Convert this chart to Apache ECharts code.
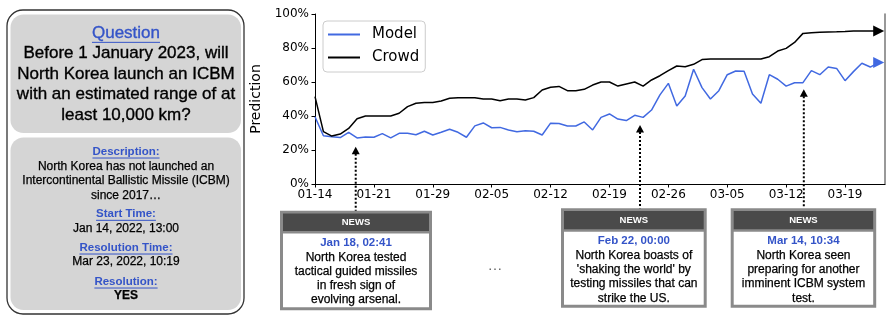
<!DOCTYPE html>
<html>
<head>
<meta charset="utf-8">
<script src="https://cdn.jsdelivr.net/npm/echarts@6/dist/echarts.min.js"></script>
<style>html,body{margin:0;padding:0;background:#fff;}#c{width:891px;height:323px;}</style>
</head>
<body>
<div id="c"></div>
<script>
// ---- data ----
const xTickLabels = ['01-14','01-21','01-29','02-05','02-12','02-19','02-26','03-05','03-12','03-19'];
const modelValues = [39.6,28.4,27.8,27.3,30.4,27.1,27.6,27.5,29.6,27.1,29.8,29.8,29.0,31.0,28.8,30.4,32.2,30.4,27.5,34.2,
  35.9,33.1,33.3,31.8,30.8,31.3,31.0,28.8,35.8,35.6,34.1,34.1,36.5,31.8,39.2,41.2,38.2,37.3,40.4,39.2,
  43.5,52.4,59.2,45.9,51.8,67.5,56.7,50.0,54.9,64.3,66.5,66.3,52.9,47.5,64.3,61.6,57.6,59.6,59.6,66.7,
  64.3,68.8,68.0,60.8,66.1,71.0,68.8,71.4];
const crowdValues = [51.4,30.8,28.2,29.4,32.7,38.4,40,40,40,40,41.6,45.5,47.5,48,48,48.8,50.4,50.8,50.8,50.8,
  50,50,49,50,50,49.4,50.8,55.3,56.9,57.4,54.9,54.9,55.7,58.2,60,60,57.6,58.8,60,57.6,
  61.2,63.7,66.7,69.4,69,70.4,73.2,73.5,73.5,73.5,73.5,73.5,73.5,73.5,74.9,78.2,79.8,83.3,88.6,89,
  89.2,89.4,89.5,89.7,90,90,90,90];
const seriesNames = ['Model','Crowd'];
const yTicks = [0,20,40,60,80,100];

const questionTitle = 'Question';
const questionLines = ['Before 1 January 2023, will','North Korea launch an ICBM','with an estimated range of at','least 10,000 km?'];
const infoLabels = ['Description:','Start Time:','Resolution Time:','Resolution:'];
const infoValues = [['North Korea has not launched an','Intercontinental Ballistic Missile (ICBM)','since 2017…'],
  ['Jan 14, 2022, 13:00'],['Mar 23, 2022, 10:19'],['YES']];

const newsHeader = 'NEWS';
const newsDates = ['Jan 18, 02:41','Feb 22, 00:00','Mar 14, 10:34'];
const newsTexts = [['North Korea tested','tactical guided missiles','in fresh sign of','evolving arsenal.'],
  ['North Korea boasts of',"'shaking the world' by",'testing missiles that can','strike the US.'],
  ['North Korea seen','preparing for another','imminent ICBM system','test.']];
const newsAt = [4.84, 38.63, 58.1];      // x index where each news arrow points
const newsArrowTip = [21.9, 34.7, 55.7];  // % level of the arrow tip

// ---- chart ----
const chart = echarts.init(document.getElementById('c'), null, {renderer:'canvas'});
const lastIdx = modelValues.length - 1;
const CH = '"DejaVu Sans", sans-serif';
const SANS = '"Liberation Sans", Arial, sans-serif';
const BLUE = '#4169e1';

chart.setOption({
  animation: false,
  textStyle: {fontFamily: CH},
  grid: {left: 315, right: 6, top: 14, bottom: 139, containLabel: false},
  legend: {
    orient: 'vertical', left: 323, top: 21,
    padding: [5, 6, 6, 5], itemGap: 6,
    backgroundColor: '#fff', borderColor: '#cccccc', borderWidth: 1, borderRadius: 4,
    itemWidth: 32, itemHeight: 2,
    textStyle: {fontSize: 15, color: '#000', fontFamily: CH, padding: [0,0,0,7], lineHeight: 17},
    data: seriesNames.map(n => ({name: n, icon: 'rect'}))
  },
  xAxis: {
    type: 'value', min: 0, max: 67.75, interval: 7,
    axisLine: {show: true, lineStyle: {color: '#000', width: 1}},
    axisTick: {show: true, length: 3.5, lineStyle: {color: '#000'}},
    axisLabel: {
      fontSize: 12, color: '#000', margin: 5, showMaxLabel: false,
      formatter: v => (v % 7 === 0 && v / 7 < xTickLabels.length) ? xTickLabels[v / 7] : ''
    },
    splitLine: {show: false}
  },
  yAxis: [{
    type: 'value', min: 0, max: 100, interval: 20,
    name: 'Prediction', nameLocation: 'middle', nameGap: 40,
    nameTextStyle: {fontSize: 14, color: '#000', fontFamily: CH},
    axisLine: {show: true, lineStyle: {color: '#000', width: 1}},
    axisTick: {show: true, length: 3.5, lineStyle: {color: '#000'}},
    axisLabel: {fontSize: 12, color: '#000', margin: 6, formatter: '{value}%'},
    splitLine: {show: false}
  }, {
    type: 'value', min: 0, max: 100, position: 'right',
    axisLine: {show: true, lineStyle: {color: '#777', width: 1.5}},
    axisTick: {show: false}, axisLabel: {show: false}, splitLine: {show: false}
  }],
  series: [
    {
      name: seriesNames[0], type: 'line', symbol: 'none', color: BLUE,
      lineStyle: {width: 1.5, color: BLUE},
      data: modelValues.map((v, i) => [i, v]),
      markPoint: {symbol: 'triangle', symbolSize: [11, 11], symbolRotate: -90, silent: true,
        itemStyle: {color: BLUE}, label: {show: false},
        data: [{coord: [lastIdx, modelValues[lastIdx]]}]}
    },
    {
      name: seriesNames[1], type: 'line', symbol: 'none', color: '#000',
      lineStyle: {width: 1.5, color: '#000'},
      data: crowdValues.map((v, i) => [i, v]),
      markPoint: {symbol: 'triangle', symbolSize: [11, 11], symbolRotate: -90, silent: true,
        itemStyle: {color: '#000'}, label: {show: false},
        data: [{coord: [lastIdx, crowdValues[lastIdx]]}]}
    }
  ]
});

// ---- decorations ----
const mctx = document.createElement('canvas').getContext('2d');
function textW(t, font) { mctx.font = font; return mctx.measureText(t).width; }
function txt(t, x, y, font, fill, extra) {
  return Object.assign({type: 'text', silent: true, style: Object.assign({text: t, x: x, y: y, font: font, fill: fill, align: 'center', verticalAlign: 'middle'}, extra || {})});
}
function underline(t, x, y, font, size, color) {
  const w = textW(t, font);
  return {type: 'line', silent: true, shape: {x1: x - w / 2, y1: y + size * 0.55, x2: x + w / 2, y2: y + size * 0.55}, style: {stroke: color, lineWidth: 1}};
}
const G = [];
const LBLUE = '#3454c8';
// Left panel
G.push({type: 'rect', silent: true, shape: {x: 7, y: 10, width: 237, height: 304, r: 16}, style: {fill: '#fff', stroke: '#333', lineWidth: 1.3}});
G.push({type: 'rect', silent: true, shape: {x: 10.5, y: 14.5, width: 230.5, height: 118.5, r: 13}, style: {fill: '#d5d5d5'}});
G.push({type: 'rect', silent: true, shape: {x: 10.5, y: 137.5, width: 230.5, height: 172.5, r: 13}, style: {fill: '#d5d5d5'}});
const cx = 126;
const fQ = '17px ' + SANS;
G.push(txt(questionTitle, cx, 33, fQ, LBLUE, {stroke: LBLUE, lineWidth: 0.35}));
G.push(underline(questionTitle, cx, 33, fQ, 17, LBLUE));
const qY = [53.5, 74, 94.5, 115];
questionLines.forEach((l, i) => G.push(txt(l, cx, qY[i], fQ, '#000', {stroke: '#000', lineWidth: 0.35})));
const fL = 'bold 11.5px ' + SANS, fB = '12px ' + SANS;
const labY = [151.7, 214, 247.7, 281.7];
const valY = [[166.7, 181, 195.2], [228.3], [261.7], [295.7]];
infoLabels.forEach((l, i) => {
  G.push(txt(l, cx, labY[i], fL, LBLUE));
  G.push(underline(l, cx, labY[i], fL, 11.5, LBLUE));
  infoValues[i].forEach((v, j) => G.push(txt(v, cx, valY[i][j], i === 3 ? 'bold 12px ' + SANS : fB, '#000', {stroke: '#000', lineWidth: 0.25})));
});

// News boxes
const boxes = [
  {x: 280, y: 210.7, w: 152, h: 99.5, hb: 231},
  {x: 561, y: 208.3, w: 145.7, h: 99.4, hb: 229.3},
  {x: 730.7, y: 208.3, w: 145.5, h: 99.4, hb: 229.3}
];
boxes.forEach((b, k) => {
  const mx = b.x + b.w / 2;
  G.push({type: 'rect', silent: true, shape: {x: b.x, y: b.y, width: b.w, height: b.h}, style: {fill: '#8a8a8a'}});
  G.push({type: 'rect', silent: true, shape: {x: b.x + 3, y: b.y + 2.7, width: b.w - 6, height: b.hb - b.y - 2.7}, style: {fill: '#4a4a4a'}});
  G.push({type: 'rect', silent: true, shape: {x: b.x + 3, y: b.hb + 2.5, width: b.w - 6, height: b.y + b.h - 3 - b.hb - 2.5}, style: {fill: '#fff'}});
  G.push(txt(newsHeader, mx, (b.y + 2.7 + b.hb) / 2 + 0.5, 'bold 9.5px ' + SANS, '#fff'));
  const dY = b.hb + 11.7;
  G.push(txt(newsDates[k], mx, dY, 'bold 11.5px ' + SANS, LBLUE));
  newsTexts[k].forEach((l, j) => G.push(txt(l, mx, dY + 14.7 + j * 14.2, '12px ' + SANS, '#000', {stroke: '#000', lineWidth: 0.25})));
});
G.push(txt('…', 495, 266, '15px ' + SANS, '#666'));

// Arrows from news boxes to the chart
newsAt.forEach((xi, k) => {
  const p = chart.convertToPixel({xAxisIndex: 0, yAxisIndex: 0}, [xi, newsArrowTip[k]]);
  const px = p[0], ty = p[1];
  G.push({type: 'line', silent: true, shape: {x1: px, y1: ty + 7, x2: px, y2: boxes[k].y}, style: {stroke: '#000', lineWidth: 2, lineDash: [2, 2]}});
  G.push({type: 'polygon', silent: true, shape: {points: [[px, ty], [px - 4, ty + 7.5], [px + 4, ty + 7.5]]}, style: {fill: '#000'}});
});

chart.setOption({graphic: G});
</script>
</body>
</html>
